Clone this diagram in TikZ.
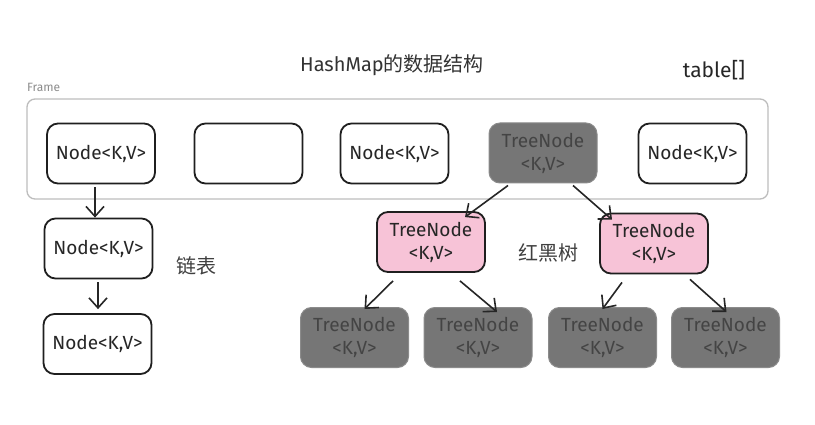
\documentclass[tikz,border=0pt]{standalone}
\usepackage{fontspec}
\setmainfont{Fira Sans}
\newfontfamily\cjk{Noto Sans CJK SC}
\usetikzlibrary{arrows.meta}
\definecolor{pinkfill}{HTML}{F7C3D7}
\definecolor{grayfill}{HTML}{767676}
\definecolor{graytext}{HTML}{444444}
\definecolor{framegray}{HTML}{BDBDBD}
\tikzset{
  base/.style={rounded corners=11pt, line width=1.8pt, minimum width=108pt, minimum height=60pt, align=center, font=\fontsize{19}{23}\selectfont, inner sep=0pt},
  plain/.style={base, draw=black!88, fill=white, text=black!85},
  pinkbox/.style={base, draw=black!88, fill=pinkfill, text=black!85},
  graybox/.style={base, draw=grayfill!85!white, line width=1pt, fill=grayfill, text=graytext},
  arr/.style={line width=1.6pt, draw=black!85, -{Straight Barb[length=10pt,width=18pt,line width=1.6pt]}},
  cjklabel/.style={font=\cjk\fontsize{20}{22}\selectfont, text=black!75, inner sep=0pt}
}
\begin{document}
\begin{tikzpicture}[x=1pt,y=-1pt]
\useasboundingbox (0,0) rectangle (815,425);
\fill[white] (0,0) rectangle (815,425);
% title
\node[font=\fontsize{20}{24}\selectfont, text=black!80, inner sep=0pt] (title) at (392,65) {HashMap{\cjk 的数据结构}};
\node[font=\fontsize{21}{24}\selectfont, text=black!85, inner sep=0pt] (table) at (714,70) {table[]};
% frame
\node[font=\fontsize{12}{14}\selectfont, text=black!45, inner sep=0pt, anchor=west] (framelbl) at (27,87) {Frame};
\draw[framegray, line width=1.3pt, rounded corners=8pt] (27,99) rectangle (768,199);
% top row
\node[plain] (t1) at (101,153.5) {Node<K,V>};
\node[plain] (t2) at (248.5,153.5) {};
\node[plain] (t3) at (394.5,153.5) {Node<K,V>};
\node[graybox] (t4) at (543,153) {TreeNode\\<K,V>};
\node[plain] (t5) at (692.5,153.5) {Node<K,V>};
% linked list
\node[plain] (l1) at (98.5,248.5) {Node<K,V>};
\node[plain] (l2) at (97.5,344) {Node<K,V>};
\node[cjklabel] (ll) at (196,266) {链表};
% red-black tree
\node[pinkbox] (p1) at (431,242) {TreeNode\\<K,V>};
\node[pinkbox] (p2) at (654,243.5) {TreeNode\\<K,V>};
\node[cjklabel] (rb) at (548,253) {红黑树};
\node[graybox] (g1) at (354.5,337.5) {TreeNode\\<K,V>};
\node[graybox] (g2) at (478,337.5) {TreeNode\\<K,V>};
\node[graybox] (g3) at (602.5,337.5) {TreeNode\\<K,V>};
\node[graybox] (g4) at (725.5,337.5) {TreeNode\\<K,V>};
% connectors
\draw[arr] (t1.south -| 95,0) ++(0,3) -- (l1.north -| 95,0);
\draw[arr] ([yshift=-3pt]l1.south -| 98,0) -- ([yshift=4pt]l2.north -| 98,0);
\draw[arr] ([xshift=-35pt,yshift=-2pt]t4.south) -- ([xshift=34pt,yshift=-6pt]p1.north);
\draw[arr] ([xshift=30pt,yshift=-2pt]t4.south) -- ([xshift=-42pt,yshift=-7pt]p2.north);
\draw[arr] ([xshift=-38pt,yshift=-8pt]p1.south) -- ([xshift=10pt,yshift=-2pt]g1.north);
\draw[arr] ([xshift=29pt,yshift=-8pt]p1.south) -- ([xshift=19pt,yshift=-5pt]g2.north);
\draw[arr] ([xshift=-32pt,yshift=-8pt]p2.south) -- ([xshift=0pt,yshift=-2pt]g3.north);
\draw[arr] ([xshift=36pt,yshift=-5pt]p2.south) -- ([xshift=1pt,yshift=-5pt]g4.north);
\end{tikzpicture}
\end{document}
